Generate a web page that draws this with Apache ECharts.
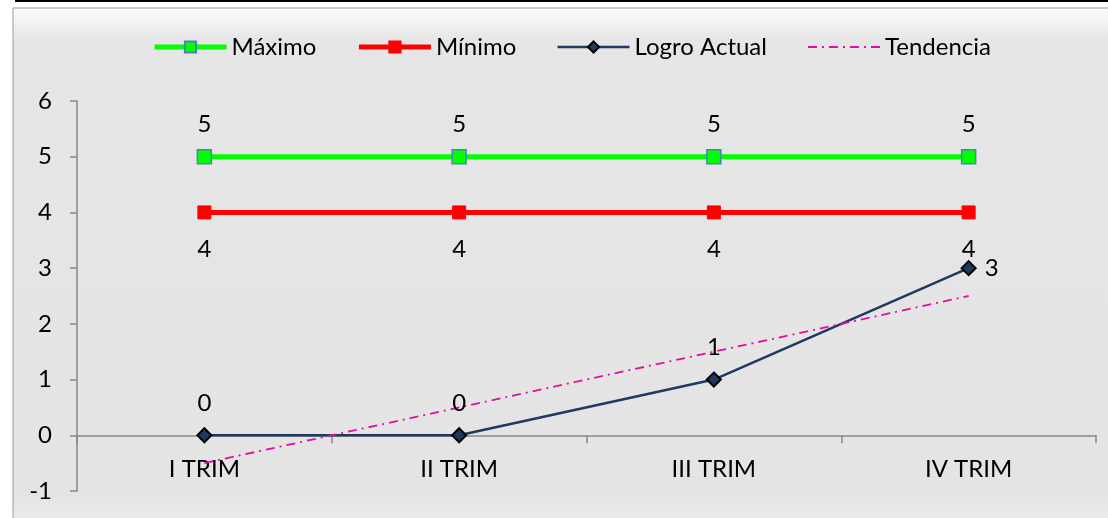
<!DOCTYPE html>
<html>
<head>
<meta charset="utf-8">
<script src="https://cdn.jsdelivr.net/npm/echarts@6/dist/echarts.min.js"></script>
<style>
  html, body { margin: 0; padding: 0; background: #ffffff; }
  #chart { width: 1108px; height: 518px; }
</style>
</head>
<body>
<div id="chart"></div>
<script>
const trimestres = ['I TRIM', 'II TRIM', 'III TRIM', 'IV TRIM'];
const maximo = [5, 5, 5, 5];
const minimo = [4, 4, 4, 4];
const logroActual = [0, 0, 1, 3];
const tendencia = [-0.5, 0.5, 1.5, 2.5];

const fontFamily = 'Lato';
const chart = echarts.init(document.getElementById('chart'));

// last point of "Logro Actual" has its label on the right
const logroData = logroActual.map((v, i) => ({
  value: v,
  label: i === logroActual.length - 1 ? { position: 'right', distance: 8 } : {}
}));

// grid geometry, used to put the x axis line on the zero value
const gridTop = 101, gridBottom = 27, yMin = -1, yMax = 6;
const plotH = 518 - gridTop - gridBottom;
const zeroOffset = -plotH * (0 - yMin) / (yMax - yMin);

chart.setOption({
  animation: false,
  textStyle: { fontFamily: fontFamily },
  graphic: [
    {
      type: 'rect',
      shape: { x: 13, y: 8, width: 1110, height: 520 },
      style: {
        fill: new echarts.graphic.LinearGradient(0, 0, 0, 1, [
          { offset: 0, color: '#fdfdfd' },
          { offset: 0.06, color: '#e6e6e6' },
          { offset: 0.94, color: '#e4e4e4' },
          { offset: 1, color: '#eeeeee' }
        ]),
        stroke: '#9a9a9a',
        lineWidth: 1
      },
      z: -10
    },
    {
      type: 'line',
      shape: { x1: 15, y1: 1, x2: 1108, y2: 1 },
      style: { stroke: '#000000', lineWidth: 2 },
      z: -9
    }
  ],
  legend: {
    top: 30,
    left: 147,
    itemWidth: 72,
    itemHeight: 14,
    itemGap: 40,
    textStyle: { fontSize: 24, color: '#000000', fontFamily: fontFamily },
    data: [
      { name: 'Máximo', lineStyle: { width: 5 } },
      { name: 'Mínimo', lineStyle: { width: 5 } },
      { name: 'Logro Actual', lineStyle: { width: 2.5 } },
      { name: 'Tendencia', lineStyle: { width: 2 }, itemStyle: { opacity: 0 } }
    ]
  },
  grid: { left: 77, right: 12, top: gridTop, bottom: gridBottom, outerBoundsMode: 'none' },
  xAxis: {
    type: 'category',
    data: trimestres,
    boundaryGap: true,
    offset: zeroOffset,
    axisLine: { onZero: false, lineStyle: { color: '#888888', width: 1.5 } },
    axisTick: { show: true, length: 8, alignWithLabel: false, lineStyle: { color: '#888888', width: 1.5 } },
    axisLabel: { margin: 22, fontSize: 24, color: '#000000', fontFamily: fontFamily },
    splitLine: { show: false }
  },
  yAxis: {
    type: 'value',
    min: yMin,
    max: yMax,
    interval: 1,
    axisLine: { show: true, lineStyle: { color: '#888888', width: 1.5 } },
    axisTick: { show: true, length: 7, lineStyle: { color: '#888888', width: 1.5 } },
    axisLabel: { margin: 25, fontSize: 24, color: '#000000', fontFamily: fontFamily },
    splitLine: { show: false }
  },
  series: [
    {
      name: 'Máximo',
      type: 'line',
      data: maximo,
      symbol: 'rect',
      symbolSize: 14,
      lineStyle: { color: '#00ff00', width: 5 },
      itemStyle: { color: '#00ff00', borderColor: '#4f81bd', borderWidth: 1.5 },
      label: { show: true, position: 'top', distance: 13, fontSize: 24, color: '#000000', fontFamily: fontFamily }
    },
    {
      name: 'Mínimo',
      type: 'line',
      data: minimo,
      symbol: 'rect',
      symbolSize: 13,
      lineStyle: { color: '#ff0000', width: 5 },
      itemStyle: { color: '#ff0000', borderColor: '#ff0000', borderWidth: 1 },
      label: { show: true, position: 'bottom', distance: 18, fontSize: 24, color: '#000000', fontFamily: fontFamily }
    },
    {
      name: 'Logro Actual',
      type: 'line',
      data: logroData,
      symbol: 'diamond',
      symbolSize: 14,
      lineStyle: { color: '#1f3a60', width: 2.5 },
      itemStyle: { color: '#1f3a60', borderColor: '#000000', borderWidth: 2 },
      label: { show: true, position: 'top', distance: 12, fontSize: 24, color: '#000000', fontFamily: fontFamily }
    },
    {
      name: 'Tendencia',
      type: 'line',
      data: tendencia,
      symbol: 'none',
      lineStyle: { color: '#e0109e', width: 1.8, type: [9, 5, 2, 5] },
      itemStyle: { color: '#e0109e' }
    }
  ]
});
</script>
</body>
</html>
